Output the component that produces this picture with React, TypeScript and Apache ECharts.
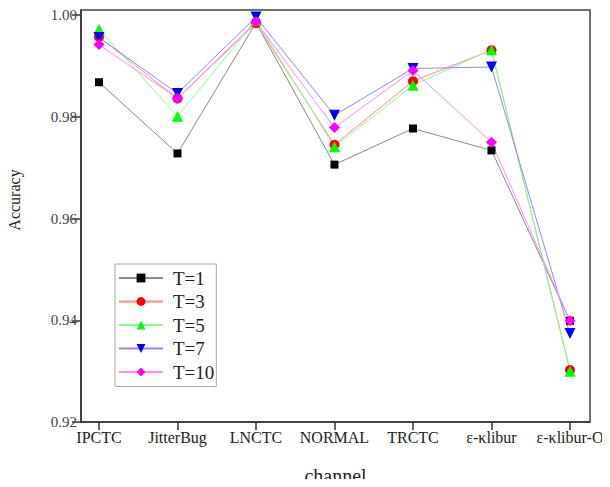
import React, { useEffect, useRef } from "react";
import * as echarts from "echarts";

const categories = ["IPCTC", "JitterBug", "LNCTC", "NORMAL", "TRCTC", "ε-κlibur", "ε-κlibur-O"];
const yTicks = [0.92, 0.94, 0.96, 0.98, 1.0];
const t1 = [0.9868, 0.9728, 0.9985, 0.9706, 0.9777, 0.9734, 0.9399];
const t3 = [0.9957, 0.9836, 0.9984, 0.9745, 0.987, 0.9931, 0.9302];
const t5 = [0.9972, 0.9801, 0.999, 0.9741, 0.9862, 0.9932, 0.93];
const t7 = [0.9956, 0.9846, 0.9996, 0.9803, 0.9895, 0.9898, 0.9374];
const t10 = [0.9942, 0.9836, 0.9987, 0.9779, 0.9891, 0.975, 0.9399];

const seriesDefs = [
  { name: "T=1", data: t1, color: "#000000", line: "#8a8a8a", symbol: "rect", size: 8, rotate: 0 },
  { name: "T=3", data: t3, color: "#ff0000", line: "#ff8a8a", symbol: "circle", size: 10, rotate: 0 },
  { name: "T=5", data: t5, color: "#00ff00", line: "#8aff8a", symbol: "triangle", size: 11, rotate: 0 },
  { name: "T=7", data: t7, color: "#0000ff", line: "#8a8aff", symbol: "triangle", size: 11, rotate: 180 },
  { name: "T=10", data: t10, color: "#ff00ff", line: "#ff8aff", symbol: "diamond", size: 11, rotate: 0 },
];

const FONT = "'Liberation Serif', 'Times New Roman', serif";

export default function App() {
  const ref = useRef<HTMLDivElement>(null);
  useEffect(() => {
    const chart = echarts.init(ref.current!, undefined, { renderer: "svg" });
    const idx = categories.map((_, i) => i);
    chart.setOption({
      animation: false,
      backgroundColor: "#ffffff",
      grid: {
        left: 81,
        top: 10,
        right: 20,
        bottom: 65,
        containLabel: false,
        outerBoundsMode: "none",
        show: true,
        borderColor: "#444",
        borderWidth: 1.5,
      },
      legend: {
        orient: "vertical",
        left: 115,
        top: 264,
        padding: [4.5, 2, 5, 3],
        borderColor: "#aaa",
        borderWidth: 1,
        itemWidth: 44,
        itemHeight: 11,
        itemGap: 4.5,
        textStyle: { fontFamily: FONT, fontSize: 19, lineHeight: 19, color: "#222", padding: [0, 0, 0, 5] },
        data: seriesDefs.map((s) => s.name),
      },
      xAxis: {
        type: "value",
        min: -0.229,
        max: 6.255,
        name: "channel",
        nameLocation: "middle",
        nameGap: 44,
        nameTextStyle: { fontFamily: FONT, fontSize: 20, color: "#222" },
        splitLine: { show: false },
        axisLine: { show: true, onZero: false, lineStyle: { color: "#333", width: 1.5 } },
        axisTick: { show: true, length: 8, customValues: idx, lineStyle: { color: "#333", width: 1.5 } },
        axisLabel: {
          customValues: idx,
          formatter: (v: number) => categories[Math.round(v)] ?? "",
          fontFamily: FONT,
          fontSize: 16,
          color: "#222",
          margin: 7,
        },
      },
      yAxis: {
        type: "value",
        min: 0.92,
        max: 1.001,
        name: "Accuracy",
        nameLocation: "middle",
        nameGap: 59,
        nameTextStyle: { fontFamily: FONT, fontSize: 16, color: "#222", padding: [0, 0, 0, 32] },
        splitLine: { show: false },
        axisLine: { show: true, onZero: false, lineStyle: { color: "#333", width: 1.5 } },
        axisTick: { show: true, length: 9, customValues: yTicks, lineStyle: { color: "#333", width: 1.5 } },
        axisLabel: {
          customValues: yTicks,
          formatter: (v: number) => v.toFixed(2),
          fontFamily: FONT,
          fontSize: 15,
          color: "#444",
          margin: 4,
        },
      },
      series: seriesDefs.map((s) => ({
        name: s.name,
        type: "line",
        data: s.data.map((v, i) => [i, v]),
        symbol: s.symbol,
        symbolSize: s.size,
        symbolRotate: s.rotate,
        showAllSymbol: true,
        itemStyle: { color: s.color, borderWidth: 0 },
        lineStyle: { color: s.line, width: 1 },
      })),
    });
    return () => chart.dispose();
  }, []);
  return <div ref={ref} style={{ width: 610, height: 487, margin: -8 }} />;
}
